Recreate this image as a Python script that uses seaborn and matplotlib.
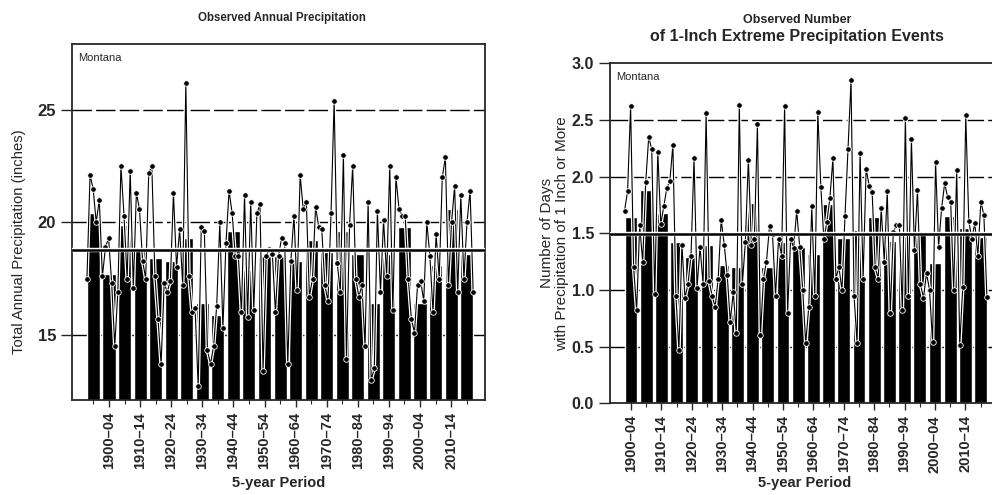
import numpy as np
import pandas as pd
import matplotlib
matplotlib.use("Agg")
import matplotlib.pyplot as plt
import matplotlib.patheffects as pe
import seaborn as sns

sns.set_style("ticks")
plt.rcParams["font.family"] = ["Liberation Sans", "DejaVu Sans"]

# ---- data (Montana) ----
# left panel: total annual precipitation, 5-year averages 1895-99 ... 2015-20
precip_periods = [1895, 1900, 1905, 1910, 1915, 1920, 1925, 1930, 1935, 1940, 1945, 1950,
                  1955, 1960, 1965, 1970, 1975, 1980, 1985, 1990, 1995, 2000, 2005, 2010, 2015]
precip_bars = [20.4, 17.7, 19.9, 18.9, 18.4, 18.3, 19.3, 16.4, 15.9, 19.6, 17.9, 18.5,
               18.5, 18.3, 19.2, 18.7, 19.6, 18.6, 16.4, 18.6, 19.8, 16.4, 18.1, 20.6, 18.6]
precip_years = np.arange(1895, 2021)
precip_annual = [17.5, 22.1, 21.5, 20.0, 21.0,
                 17.6, 18.9, 19.3, 17.3, 14.5,
                 16.9, 22.5, 20.3, 17.5, 22.3,
                 17.1, 21.3, 20.6, 18.3, 17.5,
                 22.2, 22.5, 17.6, 15.7, 13.7,
                 17.3, 16.9, 17.4, 21.3, 18.0,
                 19.7, 17.2, 26.2, 17.6, 16.0,
                 16.2, 12.7, 19.8, 19.6, 14.3,
                 13.7, 14.5, 16.3, 20.0, 15.3,
                 19.1, 21.4, 20.4, 18.5, 18.5,
                 16.0, 21.2, 15.8, 20.9, 16.1,
                 20.4, 20.8, 13.4, 18.5, 18.8,
                 18.6, 16.0, 18.5, 19.3, 19.1,
                 13.7, 18.3, 20.3, 17.0, 22.1,
                 20.6, 20.9, 16.7, 17.5, 20.7,
                 19.8, 19.7, 17.2, 16.5, 20.4,
                 25.4, 18.2, 16.9, 23.0, 13.9,
                 19.9, 22.5, 17.5, 16.7, 17.2,
                 14.5, 20.9, 13.0, 13.5, 20.5,
                 16.9, 20.1, 17.6, 22.5, 16.1,
                 22.0, 20.6, 20.3, 20.3, 17.5,
                 15.7, 15.1, 17.2, 17.4, 16.5,
                 20.0, 18.5, 16.0, 19.5, 17.5,
                 22.0, 22.9, 17.2, 20.0, 21.6,
                 16.9, 21.2, 17.5, 20.0, 21.4, 16.9]
precip_mean = 18.75
precip_ticklabels = ["1900–04", "1910–14", "1920–24", "1930–34", "1940–44", "1950–54",
                     "1960–64", "1970–74", "1980–84", "1990–94", "2000–04", "2010–14"]

# right panel: days with >= 1 inch precipitation, 5-year averages 1900-04 ... 2015-20
events_periods = [1900, 1905, 1910, 1915, 1920, 1925, 1930, 1935, 1940, 1945, 1950, 1955,
                  1960, 1965, 1970, 1975, 1980, 1985, 1990, 1995, 2000, 2005, 2010, 2015]
events_bars = [1.64, 1.88, 1.68, 1.42, 1.29, 1.40, 1.22, 1.20, 1.77, 1.20, 1.42, 1.38,
               1.32, 1.76, 1.46, 1.53, 1.64, 1.43, 1.48, 1.51, 1.24, 1.65, 1.55, 1.47]
events_years = np.arange(1900, 2021)
events_annual = [1.70, 1.87, 2.62, 1.20, 0.82,
                 1.57, 1.25, 1.95, 2.35, 2.24,
                 0.96, 2.22, 1.58, 1.74, 1.90,
                 1.96, 2.28, 0.95, 0.47, 1.40,
                 0.93, 1.05, 1.30, 2.16, 1.02,
                 1.38, 1.05, 2.56, 1.08, 0.95,
                 0.85, 1.10, 1.62, 1.40, 1.13,
                 0.72, 0.98, 0.62, 2.63, 1.05,
                 1.42, 2.15, 1.40, 1.45, 2.46,
                 0.60, 1.10, 1.25, 1.56, 1.49,
                 0.95, 1.45, 1.30, 2.62, 0.80,
                 1.45, 1.37, 1.70, 1.38, 1.00,
                 0.53, 0.85, 1.74, 0.95, 2.57,
                 1.91, 1.45, 1.60, 1.81, 2.16,
                 1.10, 1.20, 1.00, 1.65, 2.24,
                 2.85, 0.95, 0.53, 2.21, 1.10,
                 2.07, 1.92, 1.86, 1.20, 1.10,
                 1.72, 1.25, 1.87, 0.80, 1.51,
                 1.57, 1.57, 0.82, 2.52, 0.95,
                 2.33, 1.35, 1.88, 1.05, 0.93,
                 1.15, 1.00, 0.54, 2.13, 1.38,
                 1.72, 1.94, 1.82, 1.78, 1.00,
                 2.06, 0.51, 1.03, 2.54, 1.61,
                 1.45, 1.59, 1.30, 1.78, 1.66, 0.94]
events_mean = 1.49
events_ticklabels = precip_ticklabels


def period_label(y):
    end = 2020 if y == 2015 else y + 4
    return f"{y}–{str(end)[2:]}"


def draw_panel(ax, periods, bars, years, annual, mean, gridvals, ticklabels, first_tick, ysize):
    df = pd.DataFrame({"period": [period_label(p) for p in periods], "value": bars})
    sns.barplot(data=df, x="period", y="value", color="black", saturation=1,
                width=0.84, ax=ax, zorder=1)
    # annual values spread across the bars
    half = 0.42
    n = len(periods)
    pos = -half + (years - years[0]) * (n - 1 + 2 * half) / (years[-1] - years[0])
    halo = [pe.Stroke(linewidth=2.6, foreground="white"), pe.Normal()]
    sns.lineplot(x=pos, y=annual, sort=False, color="black", lw=0.8, ax=ax, zorder=4,
                 path_effects=halo)
    sns.scatterplot(x=pos, y=annual, color="black", s=16, edgecolor="white",
                    linewidth=0.6, ax=ax, zorder=5)
    for g in gridvals:
        ax.axhline(g, color="black", lw=1.0, ls=(0, (14, 3)), zorder=0.5)
    ax.axhline(mean, color="black", lw=1.8, zorder=6,
               path_effects=[pe.Stroke(linewidth=3.2, foreground="white"), pe.Normal()])
    ax.set_xticks(range(n), minor=True)
    ax.set_xticks(range(first_tick, n, 2))
    ax.set_xticklabels(ticklabels, rotation=90, fontsize=10.5, fontweight="bold")
    ax.tick_params(axis="x", which="major", length=5, width=1)
    ax.tick_params(axis="x", which="minor", length=3, width=0.8)
    ax.tick_params(axis="y", length=8, width=1, labelsize=ysize)
    for s in ax.spines.values():
        s.set_linewidth(1.3)
    ax.text(0.015, 0.975, "Montana", transform=ax.transAxes, fontsize=8, va="top")


fig = plt.figure(figsize=(9.92, 4.95), dpi=100)
ax1 = fig.add_axes([0.0726, 0.192, 0.4163, 0.719])
ax2 = fig.add_axes([0.6149, 0.1853, 0.3916, 0.6869])

draw_panel(ax1, precip_periods, precip_bars, precip_years, precip_annual, precip_mean,
           [15, 20, 25], precip_ticklabels, 1, 12)
ax1.set_xlim(-1.38, 25.18)
ax1.set_ylim(12.1, 27.93)
ax1.set_yticks([15, 20, 25])
ax1.set_yticklabels(["15", "20", "25"], fontweight="bold")
ax1.set_ylabel("Total Annual Precipitation (inches)", fontsize=10.7)
ax1.yaxis.set_label_coords(-0.111, 0.444)
ax1.set_xlabel("5-year Period", fontsize=10.5, fontweight="bold")
ax1.xaxis.set_label_coords(0.5, -0.2135)

draw_panel(ax2, events_periods, events_bars, events_years, events_annual, events_mean,
           [0.5, 1.0, 2.0, 2.5], events_ticklabels, 0, 11.5)
ax2.set_xlim(-1.38, 24.18)
ax2.set_ylim(0, 3.0)
ax2.set_yticks([0, 0.5, 1.0, 1.5, 2.0, 2.5, 3.0])
ax2.set_yticklabels(["0.0", "0.5", "1.0", "1.5", "2.0", "2.5", "3.0"], fontweight="bold")
ax2.set_ylabel("Number of Days\nwith Precipitation of 1 Inch or More", fontsize=11,
               linespacing=1.1)
ax2.yaxis.set_label_coords(-0.1055, 0.5)
ax2.set_xlabel("5-year Period", fontsize=10.5, fontweight="bold")
ax2.xaxis.set_label_coords(0.5, -0.214)

fig.text(282 / 992, 1 - 18 / 495, "Observed Annual Precipitation", ha="center",
         va="center", fontsize=8.3, fontweight="bold")
fig.text(797 / 992, 1 - 20 / 495, "Observed Number", ha="center", va="center",
         fontsize=9, fontweight="bold")
fig.text(797 / 992, 1 - 37 / 495, "of 1-Inch Extreme Precipitation Events", ha="center",
         va="center", fontsize=11.5, fontweight="bold")

fig.savefig("out.png", dpi=100)
